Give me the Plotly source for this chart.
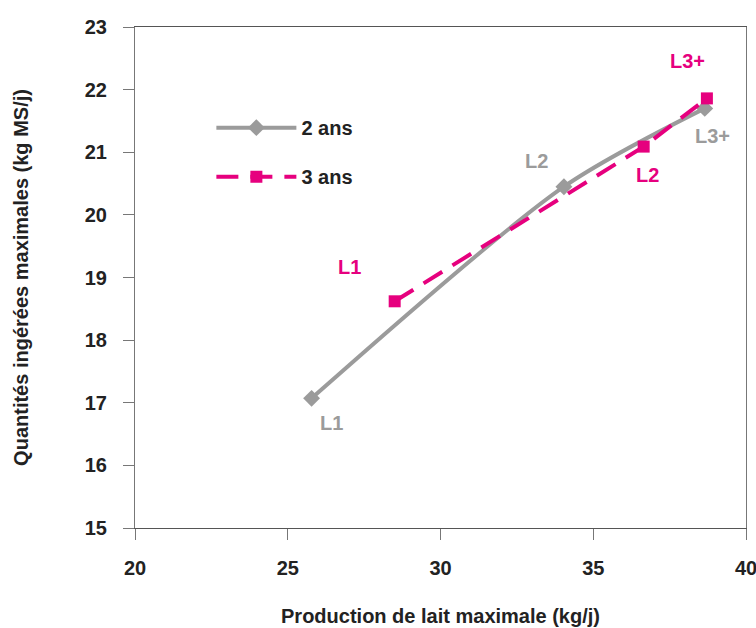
import plotly.graph_objects as go

# Data
series_names = ["2 ans", "3 ans"]
labels = ["L1", "L2", "L3+"]
x_2ans = [25.78, 34.04, 38.65]
y_2ans = [17.07, 20.45, 21.70]
x_3ans = [28.5, 36.65, 38.72]
y_3ans = [18.62, 21.09, 21.86]
x_ticks = [20, 25, 30, 35, 40]
y_ticks = [15, 16, 17, 18, 19, 20, 21, 22, 23]

GRAY = "#9b9b9b"
PINK = "#e6007e"
FONT = "Liberation Sans"
DARK = "#222222"

fig = go.Figure()
fig.add_trace(go.Scatter(
    x=x_2ans, y=y_2ans, name=series_names[0], mode="lines+markers",
    line=dict(color=GRAY, width=4, shape="spline", smoothing=0.8),
    marker=dict(symbol="diamond", size=13, color=GRAY),
    legendgroup="a",
))
fig.add_trace(go.Scatter(
    x=x_3ans, y=y_3ans, name=series_names[1], mode="lines+markers",
    line=dict(color=PINK, width=4, dash="22px,12px"),
    marker=dict(symbol="square", size=12, color=PINK),
    legendgroup="b",
))

# label offsets (pixels) for each point label
off_2 = [(20, -25), (-27, 26), (8, -28)]
off_3 = [(-45, 34), (4, -28), (-19, 37)]
ann = []
for xs, ys, offs, col in [(x_2ans, y_2ans, off_2, GRAY), (x_3ans, y_3ans, off_3, PINK)]:
    for lab, xv, yv, (dx, dy) in zip(labels, xs, ys, offs):
        ann.append(dict(x=xv, y=yv, text=lab, showarrow=False,
                        xshift=dx, yshift=dy,
                        font=dict(family=FONT, size=20, color=col, weight="bold")))

BF = dict(family=FONT, size=20, color=DARK, weight="bold")

fig.update_layout(
    width=756, height=628,
    margin=dict(l=135, r=10, t=27, b=100),
    plot_bgcolor="white", paper_bgcolor="white",
    font=dict(family=FONT, size=18, color=DARK),
    annotations=ann,
    showlegend=True,
    legend=dict(x=0.125, y=0.838, xanchor="left", yanchor="top",
                bgcolor="rgba(0,0,0,0)", traceorder="grouped",
                tracegroupgap=20, itemwidth=80,
                font=BF),
    xaxis=dict(range=[20, 40], tickvals=x_ticks, showgrid=False, zeroline=False,
               automargin=False, ticklabeloverflow="allow",
               showline=True, linecolor="#555555", linewidth=1, mirror=True,
               ticks="outside", ticklen=11, tickcolor="#777777",
               tickfont=BF, ticklabelstandoff=11,
               title=dict(text="Production de lait maximale (kg/j)",
                          font=BF, standoff=30)),
    yaxis=dict(range=[15, 23], tickvals=y_ticks, showgrid=False, zeroline=False,
               automargin=False,
               showline=True, linecolor="#777777", linewidth=1, mirror=True,
               ticks="outside", ticklen=11, tickcolor="#777777",
               tickfont=BF, ticklabelstandoff=12,
               title=dict(text="Quantités ingérées maximales (kg MS/j)",
                          font=BF, standoff=50)),
)

fig.write_html("out.html", config={"displayModeBar": False},
               post_script="document.body.style.margin='0px';document.body.style.overflow='hidden';")
